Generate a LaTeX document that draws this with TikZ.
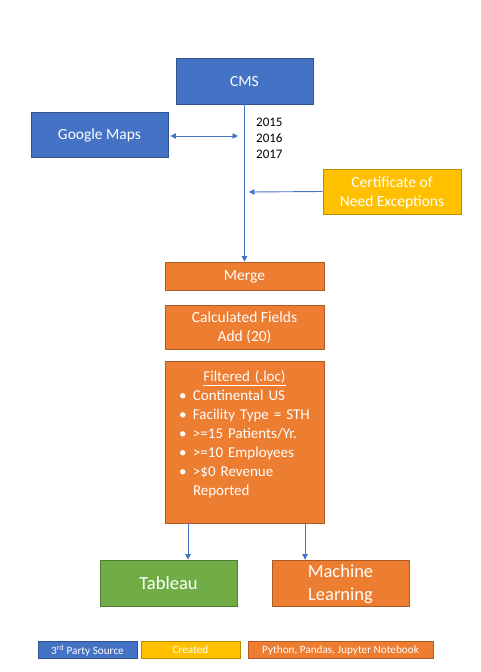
\documentclass[tikz,border=0pt]{standalone}
\usepackage{fontspec}
\setmainfont{Carlito}
\usetikzlibrary{arrows.meta}
\definecolor{cblue}{HTML}{4472C4}
\definecolor{cbluedk}{HTML}{2F528F}
\definecolor{corange}{HTML}{ED7D31}
\definecolor{corangedk}{HTML}{AE5A21}
\definecolor{cyellow}{HTML}{FFC000}
\definecolor{cyellowdk}{HTML}{BC8C00}
\definecolor{cgreen}{HTML}{70AD47}
\definecolor{cgreendk}{HTML}{507E32}
\tikzset{
  box/.style={rectangle, draw, line width=0.8pt, inner sep=0pt, text=white, align=center, text depth=0pt, font=\fontsize{15.5}{19}\selectfont},
  bluebox/.style={box, fill=cblue, draw=cbluedk},
  orangebox/.style={box, fill=corange, draw=corangedk},
  yellowbox/.style={box, fill=cyellow, draw=cyellowdk},
  greenbox/.style={box, fill=cgreen, draw=cgreendk},
  bigtext/.style={font=\fontsize{18.5}{23}\selectfont},
  legtext/.style={font=\fontsize{11.2}{13}\selectfont},
  arr/.style={draw=cblue, line width=0.9pt, -{Triangle[length=5.5pt,width=5.5pt]}},
  darr/.style={draw=cblue, line width=0.9pt, {Triangle[length=5.5pt,width=5.5pt]}-{Triangle[length=5.5pt,width=5.5pt]}},
}
\begin{document}
\begin{tikzpicture}[x=1pt,y=-1pt]
\useasboundingbox (0,0) rectangle (480,672);
\fill[white] (0,0) rectangle (480,672);

\node[bluebox, minimum width=137pt, minimum height=46pt] (cms) at (244.5,81) {CMS};
\node[bluebox, minimum width=137pt, minimum height=45pt] (gm) at (99.5,134.5) {Google Maps};
\node[yellowbox, minimum width=138pt, minimum height=45pt] (cert) at (392,191.5) {Certificate of\\Need Exceptions};
\node[orangebox, minimum width=159pt, minimum height=28pt] (merge) at (244.5,276) {Merge};
\node[orangebox, minimum width=159pt, minimum height=44pt] (calc) at (244.5,327) {Calculated Fields\\Add (20)};
\node[orangebox, minimum width=159pt, minimum height=162pt] (filt) at (244.5,442) {};
\node[anchor=north, inner sep=0pt, text width=159pt, align=left, text=white,
      font=\fontsize{15}{19}\selectfont] (filttxt) at ([yshift=-10pt]filt.north)
  {{\centering\underline{Filtered (.loc)}\par}
   \leftskip=28pt
   \noindent\llap{\makebox[14pt][l]{\textbullet}}Continental US\par
   \noindent\llap{\makebox[14pt][l]{\textbullet}}Facility Type = STH\par
   \noindent\llap{\makebox[14pt][l]{\textbullet}}>=15 Patients/Yr.\par
   \noindent\llap{\makebox[14pt][l]{\textbullet}}>=10 Employees\par
   \noindent\llap{\makebox[14pt][l]{\textbullet}}>\$0 Revenue\\Reported\par};
\node[greenbox, bigtext, minimum width=137pt, minimum height=46pt] (tab) at (168.5,583) {Tableau};
\node[orangebox, bigtext, minimum width=137pt, minimum height=46pt] (ml) at (340.5,583) {Machine\\Learning};

\node[anchor=west, inner sep=0pt, align=left, font=\fontsize{13}{16}\selectfont] (years) at (256,138) {2015\\2016\\2017};

\node[bluebox, legtext, minimum width=99pt, minimum height=17pt] (leg1) at (87.5,649.5) {3\textsuperscript{rd} Party Source};
\node[yellowbox, legtext, minimum width=99pt, minimum height=17pt] (leg2) at (190.5,649.5) {Created};
\node[orangebox, legtext, minimum width=185pt, minimum height=17pt] (leg3) at (340.5,649.5) {Python, Pandas, Jupyter Notebook};

\coordinate (gmend) at (238,136);
\coordinate (certend) at (249,192);
\draw[arr] (cms) -- (merge);
\draw[darr] ([xshift=2pt,yshift=-1.5pt]gm.east) -- (gmend);
\draw[arr] (cert.west) -- (certend);
\draw[arr] ([xshift=-56.5pt]filt.south) -- ([xshift=19.5pt]tab.north);
\draw[arr] ([xshift=60.5pt]filt.south) -- ([xshift=-35.5pt]ml.north);
\end{tikzpicture}
\end{document}
